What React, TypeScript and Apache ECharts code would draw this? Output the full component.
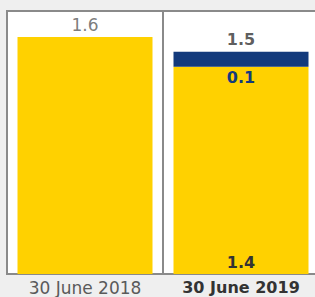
import React, { useEffect, useRef } from "react";
import * as echarts from "echarts";

const categories = ["30 June 2018", "30 June 2019"];
const baseValues = [1.6, 1.4];
const addedValues = [null, 0.1];
const totals = [1.6, 1.5];

const FONT = "'DejaVu Sans', 'Open Sans', sans-serif";
const YELLOW = "#FFD100";
const NAVY = "#133A7C";

export default function App() {
  const ref = useRef<HTMLDivElement>(null);
  useEffect(() => {
    if (!ref.current) return;
    const chart = echarts.init(ref.current, null, { renderer: "svg" });
    chart.setOption({
      animation: false,
      backgroundColor: "#efefef",
      grid: {
        left: 7,
        width: 312,
        top: 11,
        height: 263,
        outerBoundsMode: "none",
        containLabel: false,
        show: true,
        backgroundColor: "#ffffff",
        borderColor: "#8a8a8a",
        borderWidth: 2,
      },
      xAxis: {
        type: "category",
        data: categories,
        axisTick: { show: false },
        axisLine: { show: true, lineStyle: { color: "#8a8a8a", width: 2 } },
        splitLine: { show: true, interval: 0, lineStyle: { color: "#8a8a8a", width: 2 } },
        axisLabel: {
          interval: 0,
          hideOverlap: false,
          fontFamily: FONT,
          fontSize: 17,
          margin: 5,
          color: "#555",
          formatter: (v: string, i: number) => (i === 1 ? `{b|${v}}` : `{r|${v}}`),
          rich: {
            r: { fontFamily: FONT, fontSize: 17, color: "#5a5a5a" },
            b: { fontFamily: FONT, fontSize: 16, color: "#333", fontWeight: "bold" },
          },
        },
      },
      yAxis: {
        type: "value",
        min: 0,
        max: 1.6 * 1.11,
        show: false,
        splitLine: { show: false },
      },
      series: [
        {
          type: "bar",
          stack: "s",
          barWidth: 135,
          itemStyle: { color: YELLOW },
          data: baseValues.map((v, i) => ({
            value: v,
            label:
              i === 1
                ? {
                    show: true,
                    position: "insideBottom",
                    distance: 4,
                    fontFamily: FONT,
                    fontSize: 16,
                    fontWeight: "bold",
                    color: "#333",
                  }
                : { show: false },
          })),
        },
        {
          type: "bar",
          stack: "s",
          barWidth: 135,
          itemStyle: { color: NAVY },
          label: {
            show: true,
            position: "bottom",
            distance: 3,
            fontFamily: FONT,
            fontSize: 16,
            fontWeight: "bold",
            color: NAVY,
          },
          data: addedValues,
        },
        {
          type: "scatter",
          symbolSize: 0,
          silent: true,
          data: totals.map((v, i) => ({
            value: v,
            label: {
              show: true,
              position: "top",
              distance: 4,
              fontFamily: FONT,
              fontSize: i === 1 ? 16 : 17,
              fontWeight: i === 1 ? "bold" : "normal",
              color: i === 1 ? "#333" : "#5a5a5a",
            },
          })),
        },
      ],
    });
    return () => chart.dispose();
  }, []);
  return (
    <div
      ref={ref}
      style={{ width: 315, height: 297, position: "absolute", left: 0, top: 0 }}
    />
  );
}
